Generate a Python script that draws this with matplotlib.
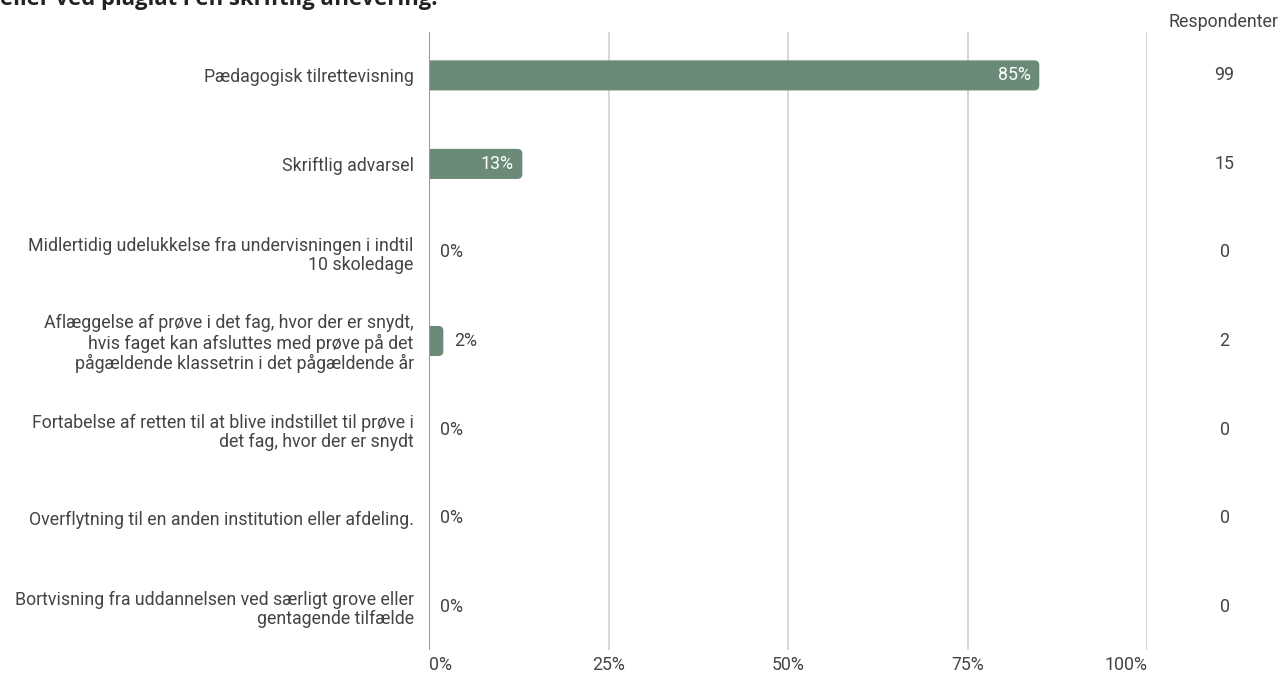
import matplotlib
matplotlib.use("Agg")
import matplotlib.pyplot as plt
from matplotlib.patches import FancyBboxPatch
from matplotlib.ticker import FixedLocator
import numpy as np

plt.rcParams['font.family'] = ['Roboto', 'DejaVu Sans']

# DATA
categories = [
    "Pædagogisk tilrettevisning",
    "Skriftlig advarsel",
    "Midlertidig udelukkelse fra undervisningen i indtil\n10 skoledage",
    "Aflæggelse af prøve i det fag, hvor der er snydt,\nhvis faget kan afsluttes med prøve på det\npågældende klassetrin i det pågældende år",
    "Fortabelse af retten til at blive indstillet til prøve i\ndet fag, hvor der er snydt",
    "Overflytning til en anden institution eller afdeling.",
    "Bortvisning fra uddannelsen ved særligt grove eller\ngentagende tilfælde",
]
percent = [85, 13, 0, 2, 0, 0, 0]
respondents = [99, 15, 0, 2, 0, 0, 0]
x_ticks = [0, 25, 50, 75, 100]
x_tick_labels = ["0%", "25%", "50%", "75%", "100%"]
title_tail = "eller ved plagiat i en skriftlig aflevering."

BAR = '#6b8b78'
TXT = '#444444'
GRID = '#cccccc'
FS = 12.8

fig = plt.figure(figsize=(12.8, 6.75), dpi=100)
ax = fig.add_axes([429 / 1280, 1 - 650 / 675, 718 / 1280, 618 / 675])

y = np.arange(len(categories))
bars = ax.barh(y, percent, height=0.34, color=BAR)

# swap plain bars for bars with rounded right ends
px_x = 718 / 100.0
px_y = 618 / 6.98
r = 5 / px_x
for b in bars:
    x0, y0 = b.get_x(), b.get_y()
    w, h = b.get_width(), b.get_height()
    b.set_visible(False)
    if w <= 0:
        continue
    p = FancyBboxPatch((x0 - r, y0), w + r, h,
                       boxstyle="round,pad=0,rounding_size=%f" % r,
                       mutation_aspect=px_x / px_y,
                       facecolor=BAR, edgecolor='none', zorder=2)
    ax.add_patch(p)

ax.set_xlim(0, 100)
ax.set_ylim(6.49, -0.49)

for t in x_ticks[1:]:
    ax.axvline(t, color=GRID, lw=1.1, zorder=1)
ax.axvline(0, color='#999999', lw=1.5, zorder=3)

for s in ax.spines.values():
    s.set_visible(False)

ax.set_yticks(y)
ax.set_yticklabels(categories, fontsize=FS, color=TXT, linespacing=1.08)
ax.tick_params(axis='y', length=0, pad=11)

ax.xaxis.set_major_locator(FixedLocator(x_ticks))
ax.set_xticklabels(x_tick_labels, fontsize=FS, color=TXT)
ax.tick_params(axis='x', length=0, pad=4)
xl = ax.get_xticklabels()
xl[0].set_ha('left')
xl[-1].set_ha('right')

# value labels
for i, v in enumerate(percent):
    if v >= 10:
        ax.text(v - 1.2, i, "%d%%" % v, ha='right', va='center',
                fontsize=FS, color='white', zorder=4)
    else:
        ax.text(v + 1.5, i, "%d%%" % v, ha='left', va='center',
                fontsize=FS, color=TXT, zorder=4)

# respondent column
for i, n in enumerate(respondents):
    ax.text(110.8, i, str(n), ha='center', va='center', fontsize=FS,
            color=TXT, clip_on=False)
fig.text(1223 / 1280, 1 - 22 / 675, "Respondenter", ha='center', va='center',
         fontsize=FS, color=TXT)

# title, cut off by the top of the image
fig.text(0, 1 - 5 / 675, title_tail, ha='left', va='baseline', fontsize=15.8,
         fontweight='bold', color='#222222', family=['Open Sans', 'DejaVu Sans'])

fig.savefig("out.png", dpi=100)
